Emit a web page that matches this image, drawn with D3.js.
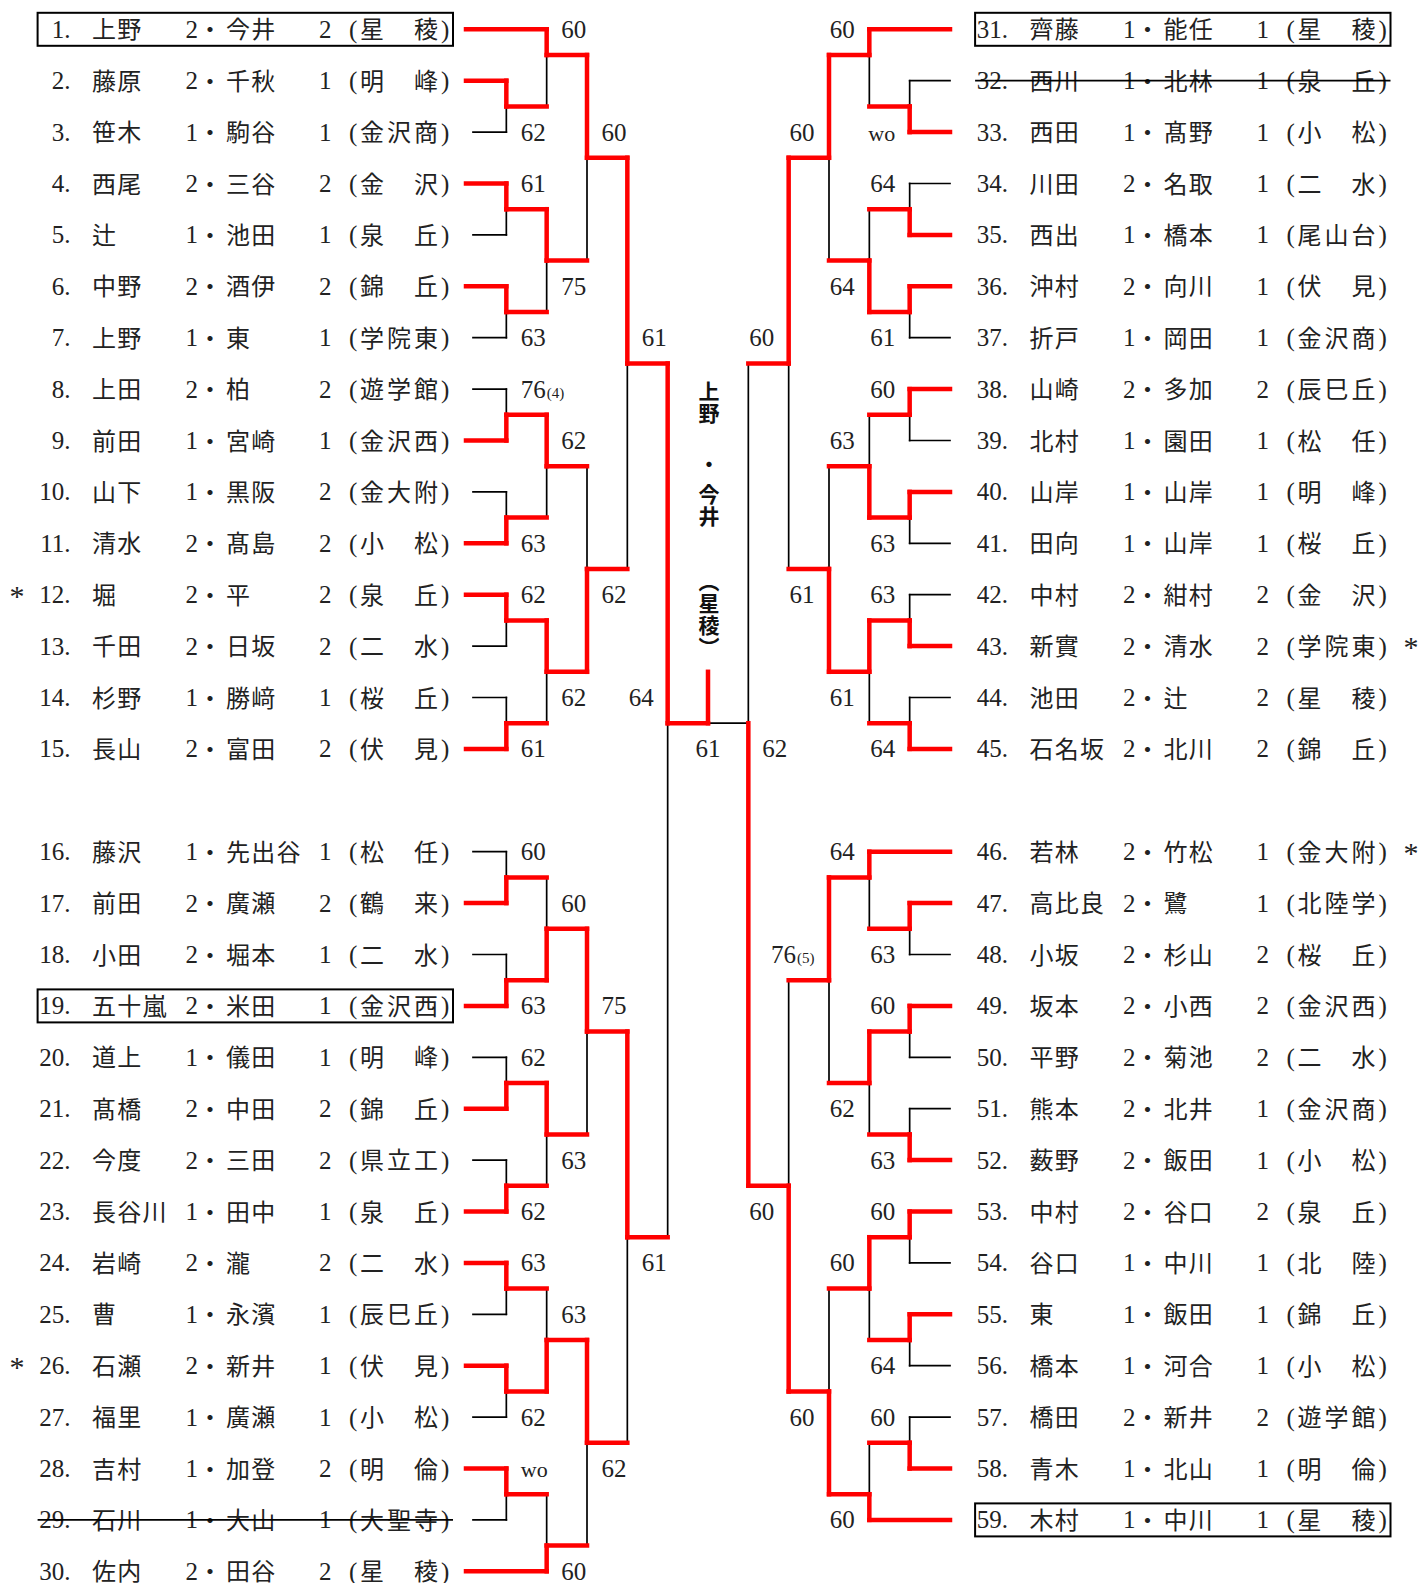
<!DOCTYPE html>
<html><head><meta charset="utf-8">
<script src="https://cdn.jsdelivr.net/npm/d3@7"></script>
<style>body{margin:0;background:#fff} svg{display:block;background:#fff}</style>
</head><body>
<svg id="chart" width="1421" height="1583"></svg>
<script>
// ================= DATA =================
const names1 = ["上野","藤原","笹木","西尾","辻","中野","上野","上田","前田","山下","清水","堀","千田","杉野","長山",
  "藤沢","前田","小田","五十嵐","道上","髙橋","今度","長谷川","岩崎","曹","石瀬","福里","吉村","石川","佐内",
  "齊藤","西川","西田","川田","西出","沖村","折戸","山崎","北村","山岸","田向","中村","新實","池田","石名坂",
  "若林","高比良","小坂","坂本","平野","熊本","薮野","中村","谷口","東","橋本","橋田","青木","木村"];
const grades1 = [2,2,1,2,1,2,1,2,1,1,2,2,2,1,2, 1,2,2,2,1,2,2,1,2,1,2,1,1,1,2,
  1,1,1,2,1,2,1,2,1,1,1,2,2,2,2, 2,2,2,2,2,2,2,2,1,1,1,2,1,1];
const names2 = ["今井","千秋","駒谷","三谷","池田","酒伊","東","柏","宮崎","黒阪","髙島","平","日坂","勝﨑","富田",
  "先出谷","廣瀬","堀本","米田","儀田","中田","三田","田中","瀧","永濱","新井","廣瀬","加登","大山","田谷",
  "能任","北林","髙野","名取","橋本","向川","岡田","多加","園田","山岸","山岸","紺村","清水","辻","北川",
  "竹松","鷺","杉山","小西","菊池","北井","飯田","谷口","中川","飯田","河合","新井","北山","中川"];
const grades2 = [2,1,1,2,1,2,1,2,1,2,2,2,2,1,2, 1,2,1,1,1,2,2,1,2,1,1,1,2,1,2,
  1,1,1,1,1,1,1,2,1,1,1,2,2,2,2, 1,1,2,2,2,1,1,2,1,1,1,2,1,1];
const schools = ["星　稜","明　峰","金沢商","金　沢","泉　丘","錦　丘","学院東","遊学館","金沢西","金大附","小　松","泉　丘","二　水","桜　丘","伏　見",
  "松　任","鶴　来","二　水","金沢西","明　峰","錦　丘","県立工","泉　丘","二　水","辰巳丘","伏　見","小　松","明　倫","大聖寺","星　稜",
  "星　稜","泉　丘","小　松","二　水","尾山台","伏　見","金沢商","辰巳丘","松　任","明　峰","桜　丘","金　沢","学院東","星　稜","錦　丘",
  "金大附","北陸学","桜　丘","金沢西","二　水","金沢商","小　松","泉　丘","北　陸","錦　丘","小　松","遊学館","明　倫","星　稜"];
const boxedEntries = [1, 19, 31, 59];
const withdrawnEntries = [29, 32];
const starredEntries = [12, 26, 43, 46];

// first-round slots per half
const leftSlots = [[1],[2,3],[4,5],[6,7],[8,9],[10,11],[12,13],[14,15],[16,17],[18,19],[20,21],[22,23],[24,25],[26,27],[28,29],[30]];
const rightSlots = [[31],[32,33],[34,35],[36,37],[38,39],[40,41],[42,43],[44,45],[46],[47,48],[49,50],[51,52],[53,54],[55,56],[57,58],[59]];

// results: winners (entry numbers) and scores per round
const leftR1Winners = [null,2,4,6,9,11,12,15,17,19,21,23,24,26,28,null];
const leftR1Scores  = [null,"62","61","63","76(4)","63","62","61","60","63","62","62","63","62","wo",null];
const leftR2Winners = [1,4,9,12,19,21,26,30];
const leftR2Scores  = ["60","75","62","62","60","63","63","60"];
const leftR3Winners = [1,12,19,26];
const leftR3Scores  = ["60","62","75","62"];
const leftR4Winners = [1,19];
const leftR4Scores  = ["61","61"];
const leftSemiWinner = 1, leftSemiScore = "64";

const rightR1Winners = [null,33,35,36,38,40,43,45,null,47,49,52,53,55,58,null];
const rightR1Scores  = [null,"wo","64","61","60","63","63","64",null,"63","60","63","60","64","60",null];
const rightR2Winners = [31,36,40,43,46,49,53,59];
const rightR2Scores  = ["60","64","63","61","64","62","60","60"];
const rightR3Winners = [31,43,46,59];
const rightR3Scores  = ["60","61","76(5)","60"];
const rightR4Winners = [31,59];
const rightR4Scores  = ["60","60"];
const rightSemiWinner = 59, rightSemiScore = "62";

const finalWinner = 1, finalScore = "61";
const championParts = ["上野", "・", "今井", "（星稜）"];

// ================= LAYOUT =================
const svg = d3.select("#chart");
const RED = "#ff0000";
const y = d3.scaleLinear().domain([0, 30]).range([29.3, 29.3 + 30 * 51.4]);
const xCol = d3.scaleLinear().domain([-6, 6]).range([466, 950]);
const cx = xCol(0);
const finalK = 13.5;
const CJK = "'Noto Sans CJK JP', sans-serif";
const SERIF = "'Liberation Serif', 'DejaVu Serif', serif";
const RIGHT_SHIFT = 937.5;

function rowK(n) { const j = n <= 30 ? n : n - 30; return j <= 15 ? j - 1 : j; }

// ---------- entries table ----------
const entries = names1.map((nm, i) => ({
  n: i + 1, name1: nm, g1: grades1[i], name2: names2[i], g2: grades2[i], school: schools[i]
}));
const gTable = svg.append("g");
entries.forEach(e => {
  const dx = e.n <= 30 ? 0 : RIGHT_SHIFT;
  const yy = y(rowK(e.n));
  const g = gTable.append("g").attr("transform", `translate(${dx},${yy})`).attr("fill", "#222");
  g.append("text").attr("x", 70.5).attr("y", 8.5).attr("text-anchor", "end")
    .attr("font-family", SERIF).attr("font-size", 25).text(e.n + ".");
  g.append("text").attr("x", 92).attr("y", 9).attr("font-family", CJK).attr("font-size", 24)
    .attr("letter-spacing", 1.2).text(e.name1);
  g.append("text").attr("x", 185.5).attr("y", 8.5).attr("font-family", SERIF).attr("font-size", 25).text(e.g1);
  g.append("text").attr("x", 210).attr("y", 9).attr("text-anchor", "middle").attr("font-family", CJK).attr("font-size", 24).text("・");
  g.append("text").attr("x", 226).attr("y", 9).attr("font-family", CJK).attr("font-size", 24)
    .attr("letter-spacing", 1.2).text(e.name2);
  g.append("text").attr("x", 319).attr("y", 8.5).attr("font-family", SERIF).attr("font-size", 25).text(e.g2);
  g.append("text").attr("x", 349).attr("y", 8.5).attr("font-family", SERIF).attr("font-size", 25).text("(");
  g.append("text").attr("x", 360).attr("y", 9).attr("font-family", CJK).attr("font-size", 24)
    .attr("letter-spacing", 3).text(e.school);
  g.append("text").attr("x", 441).attr("y", 8.5).attr("font-family", SERIF).attr("font-size", 25).text(")");
  if (boxedEntries.includes(e.n)) {
    g.append("rect").attr("x", 37.6).attr("y", -16.5).attr("width", 415.4).attr("height", 33)
      .attr("fill", "none").attr("stroke", "#000").attr("stroke-width", 2);
  }
  if (withdrawnEntries.includes(e.n)) {
    g.append("line").attr("x1", 37.6).attr("x2", 453).attr("y1", 0).attr("y2", 0)
      .attr("stroke", "#000").attr("stroke-width", 1.8);
  }
  if (starredEntries.includes(e.n)) {
    g.append("text").attr("x", e.n <= 30 ? 17 : 1411 - RIGHT_SHIFT).attr("y", 11)
      .attr("text-anchor", "middle").attr("font-family", SERIF).attr("font-size", 30).text("*");
  }
});

// ---------- bracket tree ----------
function buildHalf(slots, sgn, rw, rs) {
  const leaf = n => ({ type: "leaf", id: n, k: rowK(n) });
  const winOf = c => c.type === "leaf" ? c.id : c.winner;
  function mk(round, idx, a, b, winner, score, kOverride) {
    let k;
    if (kOverride !== undefined) k = kOverride;
    else if (a.type === "leaf" && b.type !== "leaf" && round > 1) k = a.k + 0.5 * Math.sign(b.k - a.k);
    else if (b.type === "leaf" && a.type !== "leaf" && round > 1) k = b.k + 0.5 * Math.sign(a.k - b.k);
    else k = (a.k + b.k) / 2;
    return { type: "match", round, idx, children: [a, b], winner, score, k, sgn };
  }
  const all = [];
  let level = slots.map((s, i) => {
    if (s.length === 1) return leaf(s[0]);
    const m = mk(1, i, leaf(s[0]), leaf(s[1]), rw[0][i], rs[0][i]);
    all.push(m); return m;
  });
  for (let r = 2; r <= 5; r++) {
    const next = [];
    for (let i = 0; i < level.length / 2; i++) {
      const m = mk(r, i, level[2 * i], level[2 * i + 1], rw[r - 1][i], rs[r - 1][i], r === 5 ? finalK : undefined);
      all.push(m); next.push(m);
    }
    level = next;
  }
  return { semi: level[0], matches: all, winOf };
}

const halves = [
  buildHalf(leftSlots, -1,
    [leftR1Winners, leftR2Winners, leftR3Winners, leftR4Winners, [leftSemiWinner]],
    [leftR1Scores, leftR2Scores, leftR3Scores, leftR4Scores, [leftSemiScore]]),
  buildHalf(rightSlots, 1,
    [rightR1Winners, rightR2Winners, rightR3Winners, rightR4Winners, [rightSemiWinner]],
    [rightR1Scores, rightR2Scores, rightR3Scores, rightR4Scores, [rightSemiScore]])
];

const segs = [];
const addSeg = (x1, y1, x2, y2, red) => segs.push({ x1, y1, x2, y2, red });
const colX = (sgn, round) => xCol(sgn * (6 - round));

halves.forEach(h => {
  h.matches.forEach(m => {
    const X = colX(m.sgn, m.round);
    m.children.forEach(c => {
      const cy = y(c.k);
      if (c.type === "leaf") {
        const red = c.id === m.winner;
        const x0 = m.sgn < 0 ? (red ? xCol(-6) : xCol(-6) + 7) : xCol(6);
        addSeg(x0, cy, X, cy, red);
      } else {
        addSeg(colX(c.sgn, c.round), cy, X, cy, true);
      }
      addSeg(X, cy, X, y(m.k), h.winOf(c) === m.winner);
    });
  });
  const s = h.semi;
  addSeg(colX(s.sgn, 5), y(finalK), cx, y(finalK), s.winner === finalWinner);
});
addSeg(cx, y(finalK), cx, y(finalK - 1), true);

const gLines = svg.append("g");
gLines.selectAll("line.b").data(segs.filter(d => !d.red)).join("line").attr("class", "b")
  .attr("x1", d => d.x1).attr("y1", d => d.y1).attr("x2", d => d.x2).attr("y2", d => d.y2)
  .attr("stroke", "#000").attr("stroke-width", 1.7).attr("stroke-linecap", "square");
gLines.selectAll("line.r").data(segs.filter(d => d.red)).join("line").attr("class", "r")
  .attr("x1", d => d.x1).attr("y1", d => d.y1).attr("x2", d => d.x2).attr("y2", d => d.y2)
  .attr("stroke", RED).attr("stroke-width", 4.5).attr("stroke-linecap", "square");

// ---------- score labels ----------
const gLab = svg.append("g").attr("fill", "#222");
function label(score, x, k, anchor) {
  const mm = /^(\d+)(\(\d+\))?$/.exec(score);
  const t = gLab.append("text").attr("x", x).attr("y", y(k) + 8.5).attr("text-anchor", anchor)
    .attr("font-family", SERIF).attr("font-size", 25);
  if (mm) {
    t.append("tspan").text(mm[1]);
    if (mm[2]) t.append("tspan").attr("font-size", 15).attr("dx", 1).text(mm[2]);
  } else {
    t.attr("font-size", 22).text(score);
  }
}
halves.forEach(h => {
  h.matches.forEach(m => {
    const X = colX(m.sgn, m.round);
    if (m.round < 5) {
      const lk = m.k + (m.idx % 2 === 0 ? -0.5 : 0.5);
      if (m.sgn < 0) label(m.score, X + 14.5, lk, "start");
      else label(m.score, X - 14.5, lk, "end");
    } else {
      if (m.sgn < 0) label(m.score, X - 14, finalK - 0.5, "end");
      else label(m.score, X + 14, finalK + 0.5, "start");
    }
  });
});
label(finalScore, cx, finalK + 0.5, "middle");

// ---------- champion (vertical text) ----------
const champTop = [381, 454, 484, 571];
const gCh = svg.append("g").attr("font-family", CJK).attr("font-weight", 700).attr("font-size", 21).attr("fill", "#111");
championParts.forEach((s, i) => {
  gCh.append("text").attr("x", cx + 1).attr("y", champTop[i])
    .style("writing-mode", "vertical-rl").attr("letter-spacing", 1).text(s);
});
</script>
</body></html>
